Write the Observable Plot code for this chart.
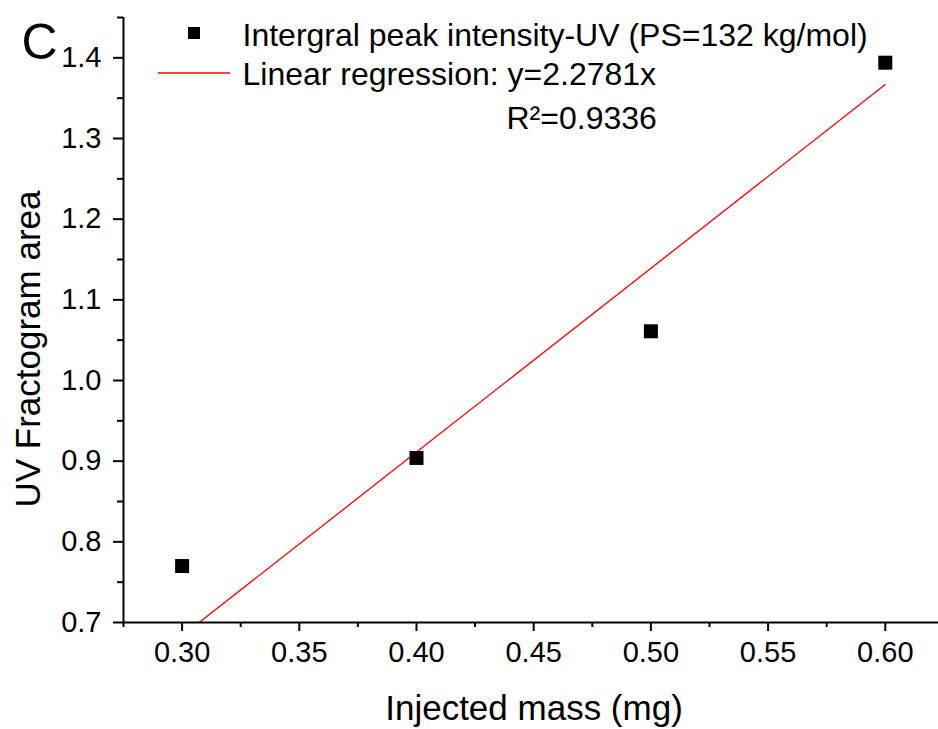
<!DOCTYPE html>
<html>
<head>
<meta charset="utf-8">
<script src="https://cdn.jsdelivr.net/npm/d3@7"></script>
<script src="https://cdn.jsdelivr.net/npm/@observablehq/plot@0.6"></script>
<style>
  html, body { margin: 0; padding: 0; background: #fff; }
  #chart svg { display: block; }
</style>
</head>
<body>
<div id="chart"></div>
<script>
// ---- data ----
const injectedMass = [0.30, 0.40, 0.50, 0.60];
const uvArea = [0.770, 0.904, 1.061, 1.394];
const slope = 2.2781;           // y = 2.2781x
const rSquared = "0.9336";
const fitRange = [0.30, 0.60];
const xMajorTicks = [0.30, 0.35, 0.40, 0.45, 0.50, 0.55, 0.60];
const xMinorTicks = [0.275, 0.325, 0.375, 0.425, 0.475, 0.525, 0.575];
const yMajorTicks = [0.7, 0.8, 0.9, 1.0, 1.1, 1.2, 1.3, 1.4];
const yMinorTicks = [0.75, 0.85, 0.95, 1.05, 1.15, 1.25, 1.35, 1.45];
const seriesLabel = "Intergral peak intensity-UV (PS=132 kg/mol)";
const fitLabel = "Linear regression: y=2.2781x";
const panelLetter = "C";

const points = injectedMass.map((x, i) => ({x, y: uvArea[i]}));
const fitLine = fitRange.map(x => ({x, y: slope * x}));

const W = 938, H = 729;
const mL = 123, mT = 17, mB = 107, mR = 0;
const font = "'Liberation Sans', Arial, sans-serif";

const plot = Plot.plot({
  width: W,
  height: H,
  marginLeft: mL,
  marginRight: mR,
  marginTop: mT,
  marginBottom: mB,
  style: {fontFamily: font, background: "#fff", overflow: "visible"},
  x: {domain: [0.275, 0.6227]},
  y: {domain: [0.7, 1.45]},
  marks: [
    Plot.line(fitLine, {x: "x", y: "y", stroke: "#ff0000", strokeWidth: 1.3, clip: true}),
    Plot.dot(points, {x: "x", y: "y", symbol: "square", r: 7.9, fill: "#000", stroke: "none"}),
    Plot.axisX(xMajorTicks, {tickSize: 9, tickPadding: 10, strokeWidth: 2, fontSize: 29,
      tickFormat: d => d.toFixed(2), label: null, color: "#000"}),
    Plot.axisX(xMinorTicks, {tickSize: 5, strokeWidth: 2, tickFormat: () => "", label: null}),
    Plot.axisY(yMajorTicks, {tickSize: 10, tickPadding: 12, strokeWidth: 2, fontSize: 29,
      tickFormat: d => d.toFixed(1), label: null, color: "#000"}),
    Plot.axisY(yMinorTicks, {tickSize: 6, strokeWidth: 2, tickFormat: () => "", label: null}),
    Plot.ruleX([0.275], {stroke: "#000", strokeWidth: 2}),
    Plot.ruleY([0.7], {stroke: "#000", strokeWidth: 2}),
    Plot.text([seriesLabel], {frameAnchor: "top-left", text: d => d, dx: 119, dy: 28,
      textAnchor: "start", lineAnchor: "bottom", fontSize: 32, fill: "#000"}),
    Plot.text([fitLabel], {frameAnchor: "top-left", text: d => d, dx: 119, dy: 67,
      textAnchor: "start", lineAnchor: "bottom", fontSize: 32, fill: "#000"}),
    Plot.text(["R²=" + rSquared], {frameAnchor: "top-left", text: d => d, dx: 383, dy: 111,
      textAnchor: "start", lineAnchor: "bottom", fontSize: 32, fill: "#000"}),
    Plot.text(["Injected mass (mg)"], {frameAnchor: "bottom", text: d => d, dx: 3, dy: 97,
      lineAnchor: "bottom", fontSize: 35, fill: "#000"}),
    Plot.text(["UV Fractogram area"], {frameAnchor: "left", text: d => d, dx: -95, dy: 29,
      rotate: -90, textAnchor: "middle", lineAnchor: "middle", fontSize: 35, fill: "#000"}),
    Plot.text([panelLetter], {frameAnchor: "top-left", text: d => d, dx: -102, dy: 41,
      textAnchor: "start", lineAnchor: "bottom", fontSize: 50, fill: "#000"})
  ]
});

document.getElementById("chart").appendChild(plot);

// legend symbols drawn relative to the frame
const svg = d3.select(plot);
const sq = 12;
svg.append("rect")
  .attr("x", mL + 71 - sq / 2).attr("y", mT + 16 - sq / 2)
  .attr("width", sq).attr("height", sq).attr("fill", "#000");
svg.append("line")
  .attr("x1", mL + 35).attr("x2", mL + 107)
  .attr("y1", mT + 56).attr("y2", mT + 56)
  .attr("stroke", "#ff0000").attr("stroke-width", 1.3);
</script>
</body>
</html>
